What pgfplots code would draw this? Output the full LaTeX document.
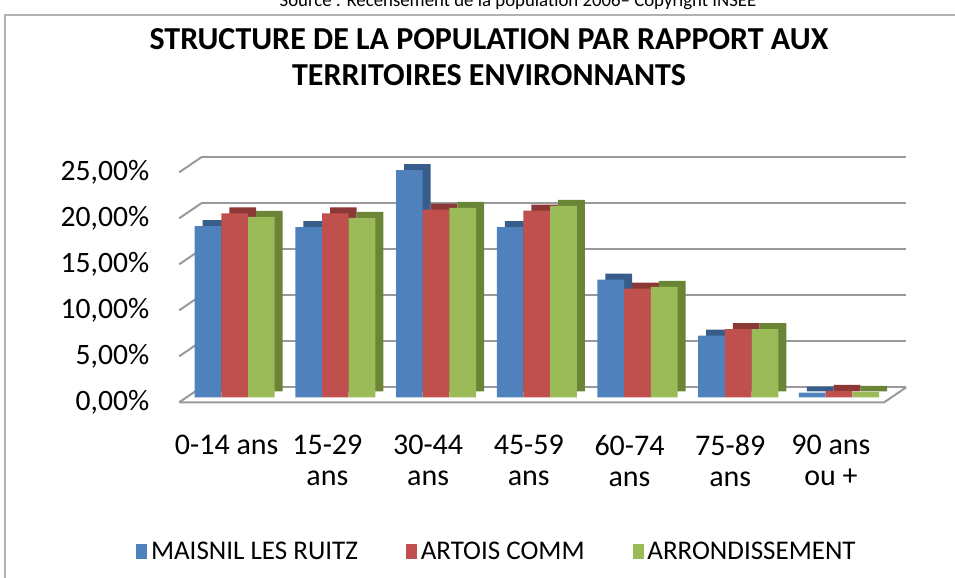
\documentclass[border=0pt]{standalone}
\usepackage{pgfplots}
\pgfplotsset{compat=1.18}
\usepackage{pgfplotstable}
\usepackage{fontspec}
\setmainfont{Carlito}
\definecolor{cblue}{HTML}{4F81BD}
\definecolor{cred}{HTML}{C0504D}
\definecolor{cgreen}{HTML}{9BBB59}
\definecolor{dblue}{HTML}{385D8A}
\definecolor{dred}{HTML}{8C3836}
\definecolor{dgreen}{HTML}{6B8537}
\definecolor{gridc}{HTML}{9A9A9A}
\pgfplotstableread{
x blue red green
0 18.6 20.0 19.6
1 18.5 20.0 19.5
2 24.7 20.4 20.6
3 18.5 20.3 20.8
4 12.8 11.8 12.0
5 6.7 7.4 7.4
6 0.5 0.7 0.6
}\data
\begin{document}
\begin{tikzpicture}[x=0.5pt,y=0.5pt]
\useasboundingbox (0,0) rectangle (955,578);
\draw[gray!60, line width=1pt] (5,563) rectangle (962,-10);
\node[anchor=base, font=\fontsize{9.4}{11}\selectfont] at (518,571) {Source : Recensement de la population 2006– Copyright INSEE};
\node[anchor=base, font=\fontsize{16}{19}\selectfont\bfseries] at (489,528) {STRUCTURE DE LA POPULATION PAR RAPPORT AUX};
\node[anchor=base, font=\fontsize{16}{19}\selectfont\bfseries] at (489,492) {TERRITOIRES ENVIRONNANTS};
\begin{axis}[
  at={(178,191)}, anchor=south west,
  scale only axis, width=352.5pt, height=115pt,
  xmin=-0.55, xmax=6.45, ymin=0, ymax=25,
  clip=false,
  axis line style={draw=none},
  major tick length=0pt,
  ytick={0,5,10,15,20,25},
  yticklabels={{0,00\%},{5,00\%},{10,00\%},{15,00\%},{20,00\%},{25,00\%}},
  yticklabel style={font=\fontsize{14.8}{17}\selectfont, xshift=-11.5pt},
  xtick={0,1,2,3,4,5,6},
  xticklabels={{0-14 ans},{15-29\\ans},{30-44\\ans},{45-59\\ans},{60-74\\ans},{75-89\\ans},{90 ans\\ou +}},
  xticklabel style={font=\fontsize{15}{15.5}\selectfont, align=center, anchor=north, yshift=-13pt, xshift=-4pt},
  ymajorgrids,
  major grid style={gridc, line width=1pt, xshift=11pt, yshift=7.5pt},
  legend style={at={(0.452,-0.65)}, anchor=center, draw=none, legend columns=3,
    font=\fontsize{13.5}{16}\selectfont,
    /tikz/every even column/.append style={column sep=22pt}},
]
\pgfplotsinvokeforeach{0,5,10,15,20,25}{
  \draw[gridc, line width=1pt] (axis cs:-0.55,#1) -- ++(11pt,7.5pt);
}
\draw[gridc, line width=1pt] (axis cs:-0.55,0) -- (axis cs:6.45,0) -- ++(11pt,7.5pt);
\addplot[ybar, bar width=13.35pt, bar shift=-13.35pt, fill=dblue, draw=none, xshift=4pt, yshift=5.5pt, forget plot] table[x=x,y=blue]{\data};
\addplot[ybar, bar width=13.35pt, bar shift=-13.35pt, fill=cblue, draw=none, yshift=2.5pt, forget plot] table[x=x,y=blue]{\data};
\addplot[ybar, bar width=13.35pt, bar shift=0pt, fill=dred, draw=none, xshift=4pt, yshift=5.5pt, forget plot] table[x=x,y=red]{\data};
\addplot[ybar, bar width=13.35pt, bar shift=0pt, fill=cred, draw=none, yshift=2.5pt, forget plot] table[x=x,y=red]{\data};
\addplot[ybar, bar width=13.35pt, bar shift=13.35pt, fill=dgreen, draw=none, xshift=4pt, yshift=5.5pt, forget plot] table[x=x,y=green]{\data};
\addplot[ybar, bar width=13.35pt, bar shift=13.35pt, fill=cgreen, draw=none, yshift=2.5pt, forget plot] table[x=x,y=green]{\data};
\addlegendimage{legend image code/.code={\fill[cblue] (0pt,-3.5pt) rectangle (5pt,3.5pt);}}
\addlegendentry{MAISNIL LES RUITZ}
\addlegendimage{legend image code/.code={\fill[cred] (0pt,-3.5pt) rectangle (5pt,3.5pt);}}
\addlegendentry{ARTOIS COMM}
\addlegendimage{legend image code/.code={\fill[cgreen] (0pt,-3.5pt) rectangle (5pt,3.5pt);}}
\addlegendentry{ARRONDISSEMENT}
\end{axis}
\end{tikzpicture}
\end{document}
